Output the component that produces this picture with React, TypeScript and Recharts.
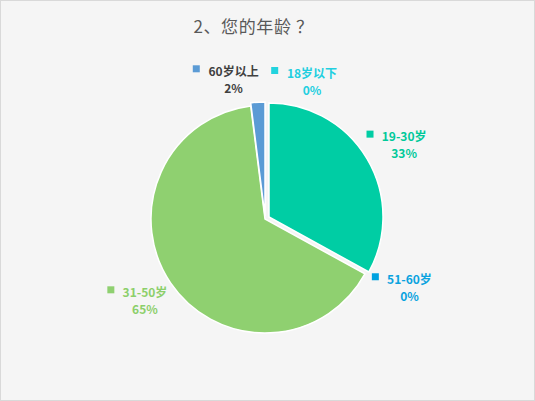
import { PieChart, Pie, Cell } from "recharts";

const categories = ["18岁以下", "19-30岁", "51-60岁", "31-50岁", "60岁以上"];
const shares = [0, 33, 0, 65, 2];

const sliceColors = ["#22d3de", "#00cda4", "#00a2e0", "#8fd070", "#5b9bd5"];
const labelColors = ["#22cfe0", "#00c99a", "#0aa3df", "#8ccf6a", "#404040"];
// nudges so labels sit like the original (Excel) placement
const labelNudge = [
  [47, 3],
  [10, -7],
  [13, -13],
  [4, -12],
  [-22, 1],
];

const data = categories.map((name, i) => ({ name, value: shares[i] }));

const RAD = Math.PI / 180;
const FONT = '"Noto Sans CJK SC", "Microsoft YaHei", sans-serif';

const textWidth = (s: string) =>
  [...s].reduce((w, ch) => {
    if (/[0-9]/.test(ch)) return w + 6.8;
    if (ch === "-") return w + 4;
    if (ch === "%") return w + 10;
    return w + 12;
  }, 0);

const renderLabel = (props: any) => {
  const { cx, cy, midAngle, index, name, value } = props;
  const r = 150;
  const x = cx + r * Math.cos(-midAngle * RAD) + labelNudge[index][0];
  const y = cy + r * Math.sin(-midAngle * RAD) + labelNudge[index][1];
  const w = textWidth(name);
  const color = labelColors[index];
  return (
    <g key={`lbl-${index}`}>
      <rect x={x - w / 2 - 16} y={y - 5} width={7} height={7} fill={sliceColors[index]} />
      <text
        x={x}
        y={y}
        textAnchor="middle"
        dominantBaseline="central"
        fill={color}
        fontSize={12}
        fontWeight="bold"
        fontFamily={FONT}
      >
        {name}
      </text>
      <text
        x={x}
        y={y + 17}
        textAnchor="middle"
        dominantBaseline="central"
        fill={color}
        fontSize={12}
        fontWeight="bold"
        fontFamily={FONT}
      >
        {`${value}%`}
      </text>
    </g>
  );
};

const slicePie = (only: number[], cx: number, cy: number, withLabel: boolean) => (
  <Pie
    data={data}
    dataKey="value"
    nameKey="name"
    cx={cx}
    cy={cy}
    outerRadius={114}
    startAngle={90}
    endAngle={-270}
    isAnimationActive={false}
    label={withLabel ? renderLabel : false}
    labelLine={false}
  >
    {data.map((_, i) => (
      <Cell
        key={i}
        fill={only.includes(i) ? sliceColors[i] : "transparent"}
        stroke={only.includes(i) ? "#ffffff" : "none"}
        strokeWidth={1.5}
      />
    ))}
  </Pie>
);

export default function App() {
  return (
    <div
      style={{
        position: "relative",
        width: 535,
        height: 401,
        boxSizing: "border-box",
        border: "1px solid #d9d9d9",
        background: "#f5f5f5",
      }}
    >
      <style>{"body{margin:0}"}</style>
      <div
        style={{
          position: "absolute",
          top: 12,
          left: 0,
          width: 505,
          textAlign: "center",
          fontFamily: FONT,
          fontSize: 17,
          letterSpacing: 0.6,
          color: "#595959",
        }}
      >
        2、您的年龄 ？
      </div>
      <div style={{ position: "absolute", left: -1, top: -1 }}>
        <PieChart width={535} height={401} margin={{ top: 0, right: 0, bottom: 0, left: 0 }}>
          {slicePie([3], 265, 219, true)}
          {slicePie([1], 269, 217, false)}
          {slicePie([4], 265, 216, false)}
        </PieChart>
      </div>
    </div>
  );
}
